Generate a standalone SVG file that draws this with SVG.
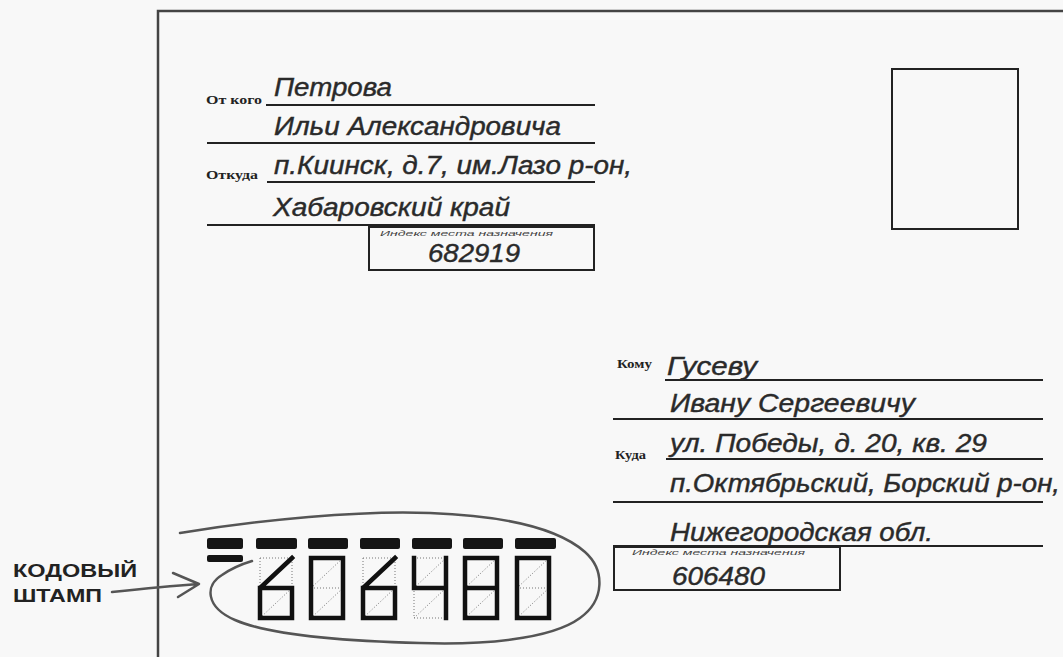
<svg xmlns="http://www.w3.org/2000/svg" width="1063" height="657" viewBox="0 0 1063 657">
<style>
.hw{font-family:"Liberation Sans",Arial,sans-serif;font-style:italic;font-size:25px;fill:#2a2a2a;stroke:#2a2a2a;stroke-width:0.4}
.lbl{font-family:"Liberation Serif","Times New Roman",serif;font-weight:bold;font-size:13px;fill:#222}
.tiny{font-family:"Liberation Sans",Arial,sans-serif;font-style:italic;font-size:7px;fill:#444}
.rule{stroke:#222;stroke-width:2;fill:none}
.box{stroke:#222;stroke-width:2;fill:none}
.dot{stroke:#777;stroke-width:1;stroke-dasharray:1 2;fill:none}
.seg{stroke:#111;stroke-width:4.5;fill:none;stroke-linecap:square;stroke-linejoin:miter}
.bar{fill:#151515}
.pen{stroke:#555;stroke-width:2.5;fill:none;stroke-linecap:round;stroke-linejoin:round}
.cap{font-family:"Liberation Sans",Arial,sans-serif;font-weight:bold;font-size:19px;fill:#222}
</style>
<defs>
<g id="cell">
<rect x="0" y="0" width="32" height="60" class="dot"/>
<line x1="0" y1="30" x2="32" y2="30" class="dot"/>
<line x1="0" y1="30" x2="32" y2="0" class="dot"/>
<line x1="0" y1="60" x2="32" y2="30" class="dot"/>
</g>
</defs>
<rect x="0" y="0" width="1063" height="657" fill="#f8f8f8"/>
<g id="envelope">
<path d="M1063 11 H158 V657" stroke="#444" stroke-width="2.5" fill="none"/>
</g>
<g id="stamp-place">
<rect x="892" y="69" width="126" height="160" class="box"/>
</g>
<g id="sender">
<text class="lbl" x="206" y="104" textLength="56" lengthAdjust="spacingAndGlyphs">От кого</text>
<text class="lbl" x="206" y="179" textLength="52" lengthAdjust="spacingAndGlyphs">Откуда</text>
<line x1="266" y1="105" x2="595" y2="105" class="rule"/>
<line x1="207" y1="143" x2="595" y2="143" class="rule"/>
<line x1="267" y1="182" x2="595" y2="182" class="rule"/>
<line x1="207" y1="225" x2="595" y2="225" class="rule"/>
<text class="hw" x="274" y="96" textLength="118" lengthAdjust="spacingAndGlyphs">Петрова</text>
<text class="hw" x="274" y="135" textLength="287" lengthAdjust="spacingAndGlyphs">Ильи Александровича</text>
<text class="hw" x="274" y="174" textLength="358" lengthAdjust="spacingAndGlyphs">п.Киинск, д.7, им.Лазо р-он,</text>
<text class="hw" x="273" y="216" textLength="237" lengthAdjust="spacingAndGlyphs">Хабаровский край</text>
</g>
<g id="sender-index">
<rect x="369" y="227" width="225" height="43" class="box"/>
<text class="tiny" x="380" y="236" textLength="173" lengthAdjust="spacingAndGlyphs">Индекс места назначения</text>
<text class="hw" x="428" y="262" textLength="92" lengthAdjust="spacingAndGlyphs">682919</text>
</g>
<g id="recipient">
<text class="lbl" x="617" y="368" textLength="35" lengthAdjust="spacingAndGlyphs">Кому</text>
<text class="lbl" x="615" y="459" textLength="31" lengthAdjust="spacingAndGlyphs">Куда</text>
<line x1="665" y1="380" x2="1043" y2="380" class="rule"/>
<line x1="613" y1="419" x2="1043" y2="419" class="rule"/>
<line x1="666" y1="459" x2="1043" y2="459" class="rule"/>
<line x1="613" y1="502" x2="1043" y2="502" class="rule"/>
<line x1="613" y1="546" x2="1043" y2="546" class="rule"/>
<text class="hw" x="667" y="375" textLength="90" lengthAdjust="spacingAndGlyphs">Гусеву</text>
<text class="hw" x="670" y="412" textLength="245" lengthAdjust="spacingAndGlyphs">Ивану Сергеевичу</text>
<text class="hw" x="670" y="452" textLength="317" lengthAdjust="spacingAndGlyphs">ул. Победы, д. 20, кв. 29</text>
<text class="hw" x="670" y="492" textLength="390" lengthAdjust="spacingAndGlyphs">п.Октябрьский, Борский р-он,</text>
<text class="hw" x="670" y="541" textLength="263" lengthAdjust="spacingAndGlyphs">Нижегородская обл.</text>
</g>
<g id="recipient-index">
<rect x="614" y="547" width="226" height="43" class="box"/>
<text class="tiny" x="632" y="555" textLength="173" lengthAdjust="spacingAndGlyphs">Индекс места назначения</text>
<text class="hw" x="672" y="585" textLength="93" lengthAdjust="spacingAndGlyphs">606480</text>
</g>
<g id="code-stamp">
<rect class="bar" x="207" y="538" width="36" height="11" rx="2"/>
<rect class="bar" x="207" y="555" width="36" height="7" rx="2"/>
<rect class="bar" x="256" y="538" width="41" height="11" rx="2"/>
<rect class="bar" x="308" y="538" width="40" height="11" rx="2"/>
<rect class="bar" x="360" y="538" width="40" height="11" rx="2"/>
<rect class="bar" x="412" y="538" width="40" height="11" rx="2"/>
<rect class="bar" x="463" y="538" width="40" height="11" rx="2"/>
<rect class="bar" x="515" y="538" width="41" height="11" rx="2"/>
<use href="#cell" x="260" y="558"/>
<use href="#cell" x="311" y="558"/>
<use href="#cell" x="363" y="558"/>
<use href="#cell" x="414" y="558"/>
<use href="#cell" x="465" y="558"/>
<use href="#cell" x="517" y="558"/>
<path class="seg" d="M292 558 L260 588 V618 H292 V588 H260"/>
<rect class="seg" x="311" y="558" width="32" height="60"/>
<path class="seg" d="M395 558 L363 588 V618 H395 V588 H363"/>
<path class="seg" d="M414 558 V588 H446 M446 558 V618"/>
<path class="seg" d="M465 558 H497 V618 H465 Z M465 588 H497"/>
<rect class="seg" x="517" y="558" width="32" height="60"/>
</g>
<g id="connectors">
<path class="pen" d="M180 533 C260 520 360 510 430 513 C510 516 560 530 585 552 C605 570 605 600 580 618 C550 640 480 645 420 643 C340 641 270 635 235 620 C205 607 205 585 222 575 C232 568 242 564 252 561"/>
<path class="pen" d="M112 592 C140 589 170 586 198 584 M173 573 L199 584 L178 597"/>
</g>
<g id="caption">
<text class="cap" x="13" y="577" textLength="124" lengthAdjust="spacingAndGlyphs">КОДОВЫЙ</text>
<text class="cap" x="13" y="602" textLength="89" lengthAdjust="spacingAndGlyphs">ШТАМП</text>
</g>
</svg>
